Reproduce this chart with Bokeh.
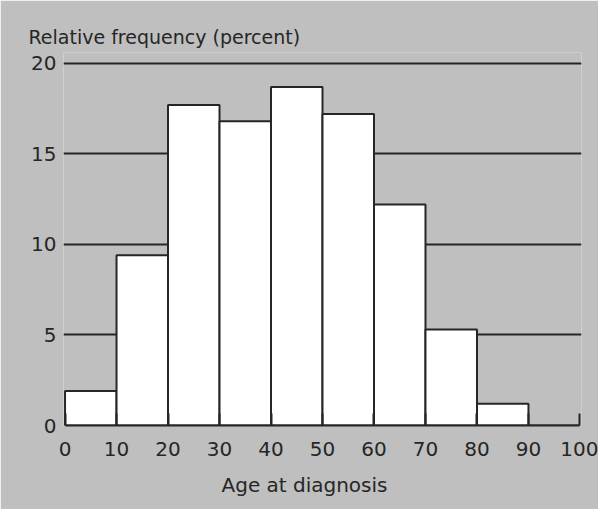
from bokeh.plotting import figure
from bokeh.models import Range1d, FixedTicker, Title
from bokeh.embed import file_html
from bokeh.resources import INLINE

# Data: relative frequency (%) by age-at-diagnosis bin
bin_left = [0, 10, 20, 30, 40, 50, 60, 70, 80, 90]
bin_right = [10, 20, 30, 40, 50, 60, 70, 80, 90, 100]
freq = [1.9, 9.4, 17.7, 16.8, 18.7, 17.2, 12.2, 5.3, 1.2, 0.0]
x_ticks = [0, 10, 20, 30, 40, 50, 60, 70, 80, 90, 100]
y_ticks = [0, 5, 10, 15, 20]
grid_levels = [5, 10, 15, 20]

GRAY = "#bfbfbf"
INK = "#262626"
FONT = "DejaVu Sans"

p = figure(width=598, height=509,
           x_range=Range1d(-0.3, 100.3), y_range=Range1d(0, 20.6),
           output_backend="svg", toolbar_location=None,
           min_border_left=63, min_border_right=17,
           min_border_top=52, min_border_bottom=83,
           background_fill_color=GRAY, border_fill_color=GRAY,
           outline_line_color=None)

p.quad(left=bin_left, right=bin_right, bottom=0, top=freq,
       fill_color="white", line_color=INK, line_width=2)

p.xgrid.visible = False
p.ygrid.ticker = FixedTicker(ticks=grid_levels)
p.ygrid.grid_line_color = INK
p.ygrid.grid_line_width = 2

p.yaxis.ticker = FixedTicker(ticks=y_ticks)
p.yaxis.axis_line_color = None
p.yaxis.major_tick_line_color = None
p.yaxis.major_tick_in = 0
p.yaxis.major_tick_out = 0
p.yaxis.minor_tick_line_color = None
p.yaxis.major_label_standoff = 7
p.yaxis.major_label_text_font = FONT
p.yaxis.major_label_text_font_size = "20px"
p.yaxis.major_label_text_color = INK

p.xaxis.ticker = FixedTicker(ticks=x_ticks)
p.xaxis.bounds = (0, 100)
p.xaxis.axis_line_color = INK
p.xaxis.axis_line_width = 2
p.xaxis.major_tick_in = 12
p.xaxis.major_tick_out = 0
p.xaxis.major_tick_line_color = INK
p.xaxis.major_tick_line_width = 2
p.xaxis.minor_tick_line_color = None
p.xaxis.major_label_standoff = 16
p.xaxis.major_label_text_font = FONT
p.xaxis.major_label_text_font_size = "20px"
p.xaxis.major_label_text_color = INK

p.title.text = "Relative frequency (percent)"
p.title.align = "left"
p.title.offset = -35
p.title.standoff = 9
p.title.text_font = FONT
p.title.text_font_size = "19px"
p.title.text_font_style = "normal"
p.title.text_color = INK

p.add_layout(Title(text="Age at diagnosis", align="left", offset=158,
                   standoff=25, text_font=FONT, text_font_size="20px",
                   text_font_style="normal", text_color=INK), "below")

open("out.html", "w").write(file_html(p, INLINE))
